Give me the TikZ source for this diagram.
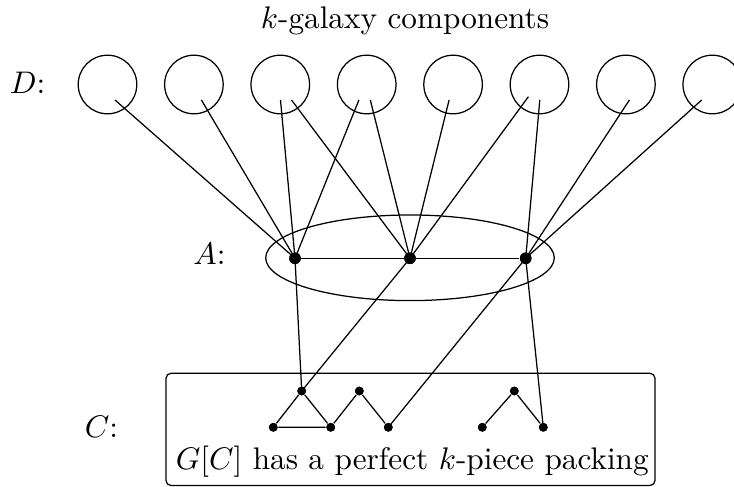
\documentclass[tikz,border=0pt]{standalone}
\usetikzlibrary{shapes.geometric,calc}
\begin{document}
\begin{tikzpicture}[x=0.32pt,y=-0.32pt,
  comp/.style={draw, circle, minimum size=18.75pt, inner sep=0pt},
  adot/.style={fill, circle, minimum size=3.7pt, inner sep=0pt},
  cdot/.style={fill, circle, minimum size=2.8pt, inner sep=0pt},
  lbl/.style={anchor=base, inner sep=0pt},
  conn/.style={line width=0.4pt}]
\useasboundingbox (0,0) rectangle (734,487);
% labels
\node[lbl] (title) at (405,28.3) {$k$-galaxy components};
\node[lbl] (dlab) at (27.5,93.3) {$D$:};
\node[lbl] (alab) at (209.5,265) {$A$:};
\node[lbl] (clab) at (101.5,438) {$C$:};
% D components
\foreach \i in {1,...,8}
  \node[comp] (d\i) at ({107.5+86.4*(\i-1)},84.5) {};
% start points inside components
\coordinate (s1)  at ($(d1)+(7.5,15.5)$);
\coordinate (s2)  at ($(d2)+(7.5,15.5)$);
\coordinate (s3a) at ($(d3)+(0.2,15.5)$);
\coordinate (s3b) at ($(d3)+(11.2,15.5)$);
\coordinate (s4a) at ($(d4)+(-7.8,15.5)$);
\coordinate (s4b) at ($(d4)+(3.6,15.5)$);
\coordinate (s5)  at ($(d5)+(-4.0,15.5)$);
\coordinate (s6a) at ($(d6)+(-11.1,12.2)$);
\coordinate (s6b) at ($(d6)+(0.3,15.5)$);
\coordinate (s7)  at ($(d7)+(3.5,15.5)$);
\coordinate (s8)  at ($(d8)+(-10.6,15.5)$);
% A set
\node[draw, ellipse, minimum width=92.35pt, minimum height=27.4pt, inner sep=0pt] (aset) at (410,257.8) {};
\node[adot] (a1) at (295,258.3) {};
\node[adot] (a2) at (410,258.3) {};
\node[adot] (a3) at (525.7,258.3) {};
% C box
\node[draw, rounded corners=1.6pt, minimum width=156.5pt, minimum height=35.9pt, inner sep=0pt] (cbox) at (410.5,429.4) {};
\node[lbl] (ctext) at (412.3,470) {$G[C]$ has a perfect $k$-piece packing};
\node[cdot] (t1) at (301.7,391) {};
\node[cdot] (b1) at (273.3,427.3) {};
\node[cdot] (b2) at (330.7,427.3) {};
\node[cdot] (t2) at (359.3,391) {};
\node[cdot] (b3) at (388.3,427.3) {};
\node[cdot] (t3) at (514.3,391) {};
\node[cdot] (b4) at (482.3,427.3) {};
\node[cdot] (b5) at (543.3,427.3) {};
% D to A
\draw[conn] (s1) -- (a1.center);
\draw[conn] (s2) -- (a1.center);
\draw[conn] (s3a) -- (a1.center);
\draw[conn] (s4a) -- (a1.center);
\draw[conn] (s3b) -- (a2.center);
\draw[conn] (s4b) -- (a2.center);
\draw[conn] (s5) -- (a2.center);
\draw[conn] (s6a) -- (a2.center);
\draw[conn] (s6b) -- (a3.center);
\draw[conn] (s7) -- (a3.center);
\draw[conn] (s8) -- (a3.center);
% A edges
\draw[conn] (a1) -- (a2);
\draw[conn] (a2) -- (a3);
% A to C
\draw[conn] (a1.center) -- (t1.center);
\draw[conn] (a2.center) -- (t1.center);
\draw[conn] (a3.center) -- (b3.center);
\draw[conn] (a3.center) -- (b5.center);
% C edges
\draw[conn] (b1) -- (t1) -- (b2) -- (b1);
\draw[conn] (b2) -- (t2) -- (b3);
\draw[conn] (b4) -- (t3) -- (b5);
% redraw dots on top
\foreach \n in {a1,a2,a3} \fill (\n) circle[radius=1.85pt];
\foreach \n in {t1,b1,b2,t2,b3,t3,b4,b5} \fill (\n) circle[radius=1.4pt];
\end{tikzpicture}
\end{document}
